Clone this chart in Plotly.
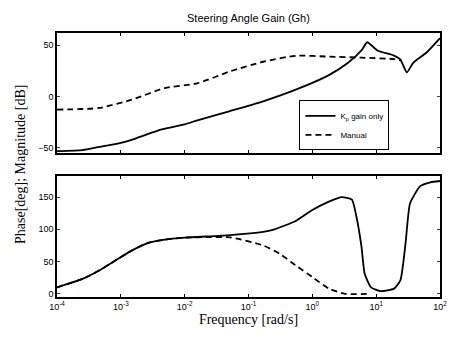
import plotly.graph_objects as go

# Magnitude, Kp gain only (log10 frequency, dB)
mag_kp_logf = [-4.0, -3.6, -3.34, -3.0, -2.83, -2.42, -2.0, -1.8, -1.29, -0.77, -0.26, 0.26, 0.56, 0.77, 0.86, 1.02, 1.28, 1.38, 1.48, 1.58, 1.79, 2.0]
mag_kp_db = [-53, -52, -49, -45, -42, -33, -27, -23, -14, -4.5, 6.8, 21, 33, 45, 53, 45, 40, 36, 23.6, 33, 43, 57]

# Magnitude, Manual
mag_man_logf = [-4.0, -3.34, -2.83, -2.31, -1.8, -1.29, -0.77, -0.26, 0.26, 0.77, 1.28, 1.4]
mag_man_db = [-12.6, -11, -3, 8.4, 13, 24.6, 34, 39.8, 39, 38, 36.6, 35]

# Phase, Kp gain only
ph_kp_logf = [-4.0, -3.6, -3.34, -3.08, -2.83, -2.57, -2.31, -2.0, -1.29, -0.77, -0.62, -0.26, 0.0, 0.26, 0.46, 0.62, 0.69, 0.77, 0.82, 0.92, 1.07, 1.28, 1.38, 1.46, 1.53, 1.69, 1.85, 2.0]
ph_kp_deg = [10, 23, 36, 52, 67, 79, 84, 87, 91, 96, 99, 113, 130, 143, 150, 146, 120, 73, 31, 10, 4, 8, 21, 78, 140, 167, 173, 175]

# Phase, Manual
ph_man_logf = [-4.0, -3.6, -3.34, -3.08, -2.83, -2.57, -2.31, -2.0, -1.6, -1.29, -0.77, -0.51, -0.26, 0.0, 0.26, 0.51, 0.9]
ph_man_deg = [10, 23, 36, 52, 67, 79, 84, 87, 88, 87.5, 75, 62, 44, 26, 8, 0, 0]

tick_logs = [-4, -3, -2, -1, 0, 1, 2]
tick_text = ["10<sup>-4</sup>", "10<sup>-3</sup>", "10<sup>-2</sup>", "10<sup>-1</sup>", "10<sup>0</sup>", "10<sup>1</sup>", "10<sup>2</sup>"]

def f(l):
    return [10 ** v for v in l]

fig = go.Figure()
line_s = dict(color="black", width=1.8)
line_d = dict(color="black", width=1.8, dash="6px,4px")
fig.add_trace(go.Scatter(x=f(mag_kp_logf), y=mag_kp_db, mode="lines", line=dict(line_s, shape="spline", smoothing=0.5),
                         name="K<sub>p</sub> gain only", xaxis="x", yaxis="y"))
fig.add_trace(go.Scatter(x=f(mag_man_logf), y=mag_man_db, mode="lines", line=dict(line_d, shape="spline", smoothing=0.6),
                         name="Manual", xaxis="x", yaxis="y"))
fig.add_trace(go.Scatter(x=f(ph_kp_logf), y=ph_kp_deg, mode="lines", line=dict(line_s, shape="spline", smoothing=0.5),
                         showlegend=False, xaxis="x2", yaxis="y2"))
fig.add_trace(go.Scatter(x=f(ph_man_logf), y=ph_man_deg, mode="lines", line=dict(line_d, shape="spline", smoothing=0.6),
                         showlegend=False, xaxis="x2", yaxis="y2"))

ax_common = dict(type="log", range=[-4, 2], showgrid=False, zeroline=False,
                 showline=True, linecolor="black", linewidth=1.5, mirror="ticks",
                 ticks="inside", ticklen=3, tickcolor="black",
                 tickvals=[10 ** v for v in tick_logs])
tickfont = dict(family="Liberation Sans, Arial", size=9, color="black")

fig.update_layout(
    width=457, height=337,
    margin=dict(l=57, r=10, t=33, b=40),
    paper_bgcolor="white", plot_bgcolor="white",
    showlegend=True,
    legend=dict(x=0.633, y=0.745, xanchor="left", yanchor="top",
                bordercolor="black", borderwidth=1, bgcolor="white",
                font=dict(family="Liberation Sans, Arial", size=8, color="black"),
                tracegroupgap=0, itemwidth=30, entrywidth=88,
                itemclick=False),
    xaxis=dict(ax_common, domain=[0, 1], anchor="y", showticklabels=False),
    yaxis=dict(domain=[0.545, 1], range=[-55, 62], showgrid=False, zeroline=False,
               showline=True, linecolor="black", linewidth=1.5, mirror="ticks",
               ticks="inside", ticklen=3, tickvals=[-50, 0, 50], tickfont=tickfont),
    xaxis2=dict(ax_common, domain=[0, 1], anchor="y2", ticktext=tick_text, tickfont=tickfont,
                title=dict(text="Frequency [rad/s]", standoff=2,
                           font=dict(family="Liberation Serif, Times New Roman", size=14, color="black"))),
    yaxis2=dict(domain=[0, 0.459], range=[-5, 183], showgrid=False, zeroline=False,
                showline=True, linecolor="black", linewidth=1.5, mirror="ticks",
                ticks="inside", ticklen=3, tickvals=[0, 50, 100, 150], tickfont=tickfont),
    annotations=[
        dict(text="Steering Angle Gain (Gh)", x=0.5, y=1, xref="paper", yref="paper",
             yshift=15, yanchor="middle", showarrow=False,
             font=dict(family="Liberation Sans, Arial", size=11, color="black")),
        dict(text="Phase[deg]; Magnitude [dB]", x=0, y=0.5, xref="paper", yref="paper",
             xshift=-37, textangle=-90, xanchor="center", yanchor="middle", showarrow=False,
             font=dict(family="Liberation Serif, Times New Roman", size=14, color="black")),
    ],
)

fig.write_html("out.html")
